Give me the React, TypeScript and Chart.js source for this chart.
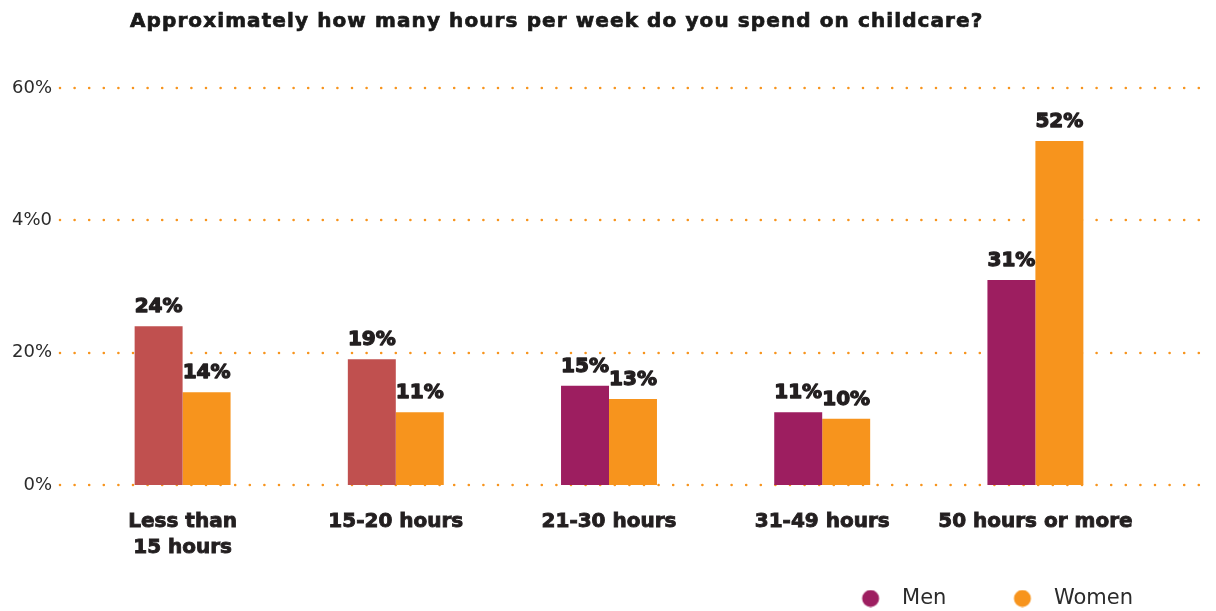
import React, { useEffect, useRef } from "react";
import { Chart, registerables } from "chart.js";

Chart.register(...registerables);

const titleText = "Approximately how many hours per week do you spend on childcare?";
const categories: (string | string[])[] = [["Less than", "15 hours"], "15-20 hours", "21-30 hours", "31-49 hours", "50 hours or more"];
const seriesNames = ["Men", "Women"];
const menValues = [24, 19, 15, 11, 31];
const womenValues = [14, 11, 13, 10, 52];
const menBarColors = ["#C0504F", "#C0504F", "#9D1E60", "#9D1E60", "#9D1E60"];
const womenBarColor = "#F7941D";
const legendColors = ["#9D1E60", "#F7941D"];
const yTickValues = [0, 20, 40, 60];
const yTickLabels = ["0%", "20%", "4%0", "60%"];

function makeLegendImage(color: string): HTMLCanvasElement {
  const c = document.createElement("canvas");
  c.width = 88;
  c.height = 18;
  const g = c.getContext("2d")!;
  g.fillStyle = color;
  g.beginPath();
  g.arc(67, 9, 8.5, 0, Math.PI * 2);
  g.fill();
  return c;
}

const dottedGrid = {
  id: "dottedGrid",
  beforeDatasetsDraw(chart: any) {
    const y = chart.scales.y;
    const ctx = chart.ctx;
    ctx.save();
    ctx.strokeStyle = "#F7941D";
    ctx.lineWidth = 2.6;
    ctx.lineCap = "round";
    ctx.setLineDash([0, 14.6]);
    y.ticks.forEach((t: any) => {
      const py = Math.round(y.getPixelForValue(t.value));
      ctx.beginPath();
      ctx.moveTo(60, py);
      ctx.lineTo(1202, py);
      ctx.stroke();
    });
    ctx.restore();
  },
};

const valueLabels = {
  id: "valueLabels",
  afterDatasetsDraw(chart: any) {
    const ctx = chart.ctx;
    ctx.save();
    ctx.font = 'bold 20px "DejaVu Sans"';
    ctx.fillStyle = "#231F20";
    ctx.strokeStyle = "#231F20";
    ctx.lineWidth = 1.3;
    ctx.lineJoin = "round";
    ctx.textAlign = "center";
    ctx.textBaseline = "alphabetic";
    chart.data.datasets.forEach((ds: any, di: number) => {
      const meta = chart.getDatasetMeta(di);
      meta.data.forEach((bar: any, i: number) => {
        const txt = ds.data[i] + "%";
        ctx.fillText(txt, bar.x, bar.y - 14);
        ctx.strokeText(txt, bar.x, bar.y - 14);
      });
    });
    ctx.restore();
  },
};

export default function App() {
  const canvasRef = useRef<HTMLCanvasElement | null>(null);

  useEffect(() => {
    if (!canvasRef.current) return;
    const legendImages = legendColors.map(makeLegendImage);
    const chart = new Chart(canvasRef.current, {
      type: "bar",
      data: {
        labels: categories,
        datasets: [
          {
            label: seriesNames[0],
            data: menValues,
            backgroundColor: menBarColors,
            categoryPercentage: 0.45,
            barPercentage: 1,
          },
          {
            label: seriesNames[1],
            data: womenValues,
            backgroundColor: womenBarColor,
            categoryPercentage: 0.45,
            barPercentage: 1,
          },
        ],
      },
      options: {
        responsive: false,
        animation: false,
        layout: { padding: { top: 88, right: 74, bottom: -8, left: 0 } },
        scales: {
          x: {
            grid: { display: false, drawTicks: false },
            border: { display: false },
            ticks: {
              color: "#231F20",
              textStrokeColor: "#231F20",
              textStrokeWidth: 0.9,
              font: { family: "DejaVu Sans", size: 20, weight: "bold", lineHeight: 1.3 },
              padding: 24,
              maxRotation: 0,
              autoSkip: false,
            },
            afterFit: (scale: any) => {
              scale.height = 94;
            },
          },
          y: {
            min: 0,
            max: 60,
            grid: { display: false, drawTicks: false },
            border: { display: false },
            afterBuildTicks: (scale: any) => {
              scale.ticks = yTickValues.map((v) => ({ value: v }));
            },
            ticks: {
              color: "#2B2B2B",
              font: { family: "DejaVu Sans", size: 18 },
              padding: 24,
              callback: (v: any) => {
                const idx = yTickValues.indexOf(Number(v));
                return idx >= 0 ? yTickLabels[idx] : "";
              },
            },
            afterFit: (scale: any) => {
              scale.width = 76;
            },
          },
        },
        plugins: {
          title: { display: false },
          tooltip: { enabled: false },
          legend: {
            position: "bottom",
            align: "end",
            labels: {
              usePointStyle: true,
              pointStyleWidth: 88,
              boxHeight: 18,
              padding: 9,
              color: "#2B2B2B",
              font: { family: "DejaVu Sans", size: 21 },
              generateLabels: () =>
                seriesNames.map((name, i) => ({
                  text: name,
                  pointStyle: legendImages[i],
                  fillStyle: legendColors[i],
                  strokeStyle: legendColors[i],
                  lineWidth: 0,
                  hidden: false,
                  datasetIndex: i,
                  fontColor: "#2B2B2B",
                })),
            },
          },
        },
      },
      plugins: [dottedGrid, valueLabels],
    } as any);
    return () => chart.destroy();
  }, []);

  return (
    <div style={{ position: "fixed", left: 0, top: 0, width: 1216, height: 611, background: "#fff", overflow: "hidden" }}>
      <div
        style={{
          position: "absolute",
          left: 130,
          top: 10,
          fontFamily: '"DejaVu Sans", sans-serif',
          fontWeight: 700,
          fontSize: 20,
          lineHeight: "20px",
          letterSpacing: "1.1px",
          color: "#1A1A1A",
          whiteSpace: "nowrap",
          WebkitTextStroke: "0.7px #1A1A1A",
        }}
      >
        {titleText}
      </div>
      <canvas ref={canvasRef} width={1216} height={611} style={{ display: "block" }} />
    </div>
  );
}
